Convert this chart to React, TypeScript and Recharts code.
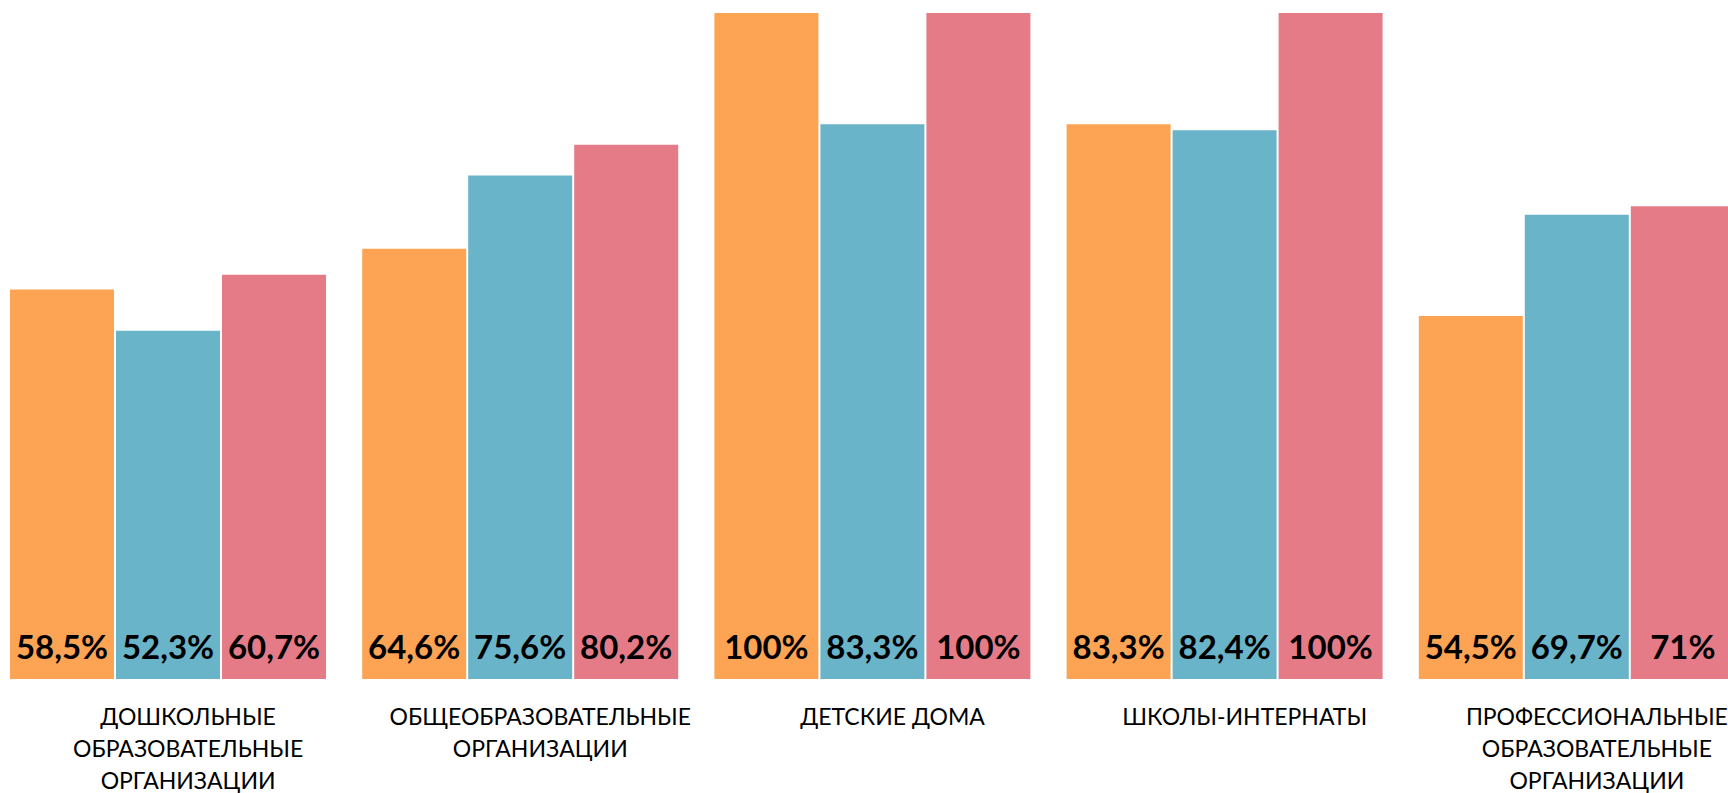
import { Bar, BarChart, LabelList, XAxis, YAxis } from 'recharts'

const categories = [
  'ДОШКОЛЬНЫЕ\nОБРАЗОВАТЕЛЬНЫЕ\nОРГАНИЗАЦИИ',
  'ОБЩЕОБРАЗОВАТЕЛЬНЫЕ\nОРГАНИЗАЦИИ',
  'ДЕТСКИЕ ДОМА',
  'ШКОЛЫ-ИНТЕРНАТЫ',
  'ПРОФЕССИОНАЛЬНЫЕ\nОБРАЗОВАТЕЛЬНЫЕ\nОРГАНИЗАЦИИ',
]
const orangeValues = [58.5, 64.6, 100, 83.3, 54.5]
const blueValues = [52.3, 75.6, 83.3, 82.4, 69.7]
const redValues = [60.7, 80.2, 100, 100, 71]

const data = categories.map((name, i) => ({
  name,
  a: orangeValues[i],
  b: blueValues[i],
  c: redValues[i],
}))

const fmt = (v: number) => String(v).replace('.', ',') + '%'

function ValueLabel(props: any) {
  const { x, y, width, height, value } = props
  return (
    <text
      x={x + width / 2}
      y={y + height - 20}
      textAnchor="middle"
      fontFamily="Lato"
      fontWeight={700}
      fontSize={33}
      fill="#000"
    >
      {fmt(value)}
    </text>
  )
}

function CategoryTick(props: any) {
  const { x, y, payload } = props
  const lines = String(payload.value).split('\n')
  return (
    <text x={x + 20} y={y} textAnchor="middle" fontFamily="Lato" fontSize={23} fill="#000">
      {lines.map((l, i) => (
        <tspan key={i} x={x + 20} y={y + 46 + i * 32}>
          {l}
        </tspan>
      ))}
    </text>
  )
}

export default function App() {
  return (
    <div
      style={{
        position: 'fixed',
        left: 0,
        top: 0,
        width: 1728,
        height: 793,
        overflow: 'hidden',
        background: '#fff',
      }}
    >
      <div style={{ position: 'absolute', left: -8, top: 0 }}>
        <BarChart
          width={1761}
          height={793}
          data={data}
          margin={{ top: 13, right: 0, bottom: 0, left: 0 }}
          barSize={104}
          barGap={2}
        >
          <XAxis
            dataKey="name"
            height={114}
            axisLine={false}
            tickLine={false}
            tickSize={0}
            tickMargin={0}
            interval={0}
            tick={<CategoryTick />}
          />
          <YAxis hide domain={[0, 100]} />
          <Bar dataKey="a" fill="#FCA454" isAnimationActive={false}>
            <LabelList dataKey="a" content={<ValueLabel />} />
          </Bar>
          <Bar dataKey="b" fill="#6AB4C9" isAnimationActive={false}>
            <LabelList dataKey="b" content={<ValueLabel />} />
          </Bar>
          <Bar dataKey="c" fill="#E47B87" isAnimationActive={false}>
            <LabelList dataKey="c" content={<ValueLabel />} />
          </Bar>
        </BarChart>
      </div>
    </div>
  )
}
